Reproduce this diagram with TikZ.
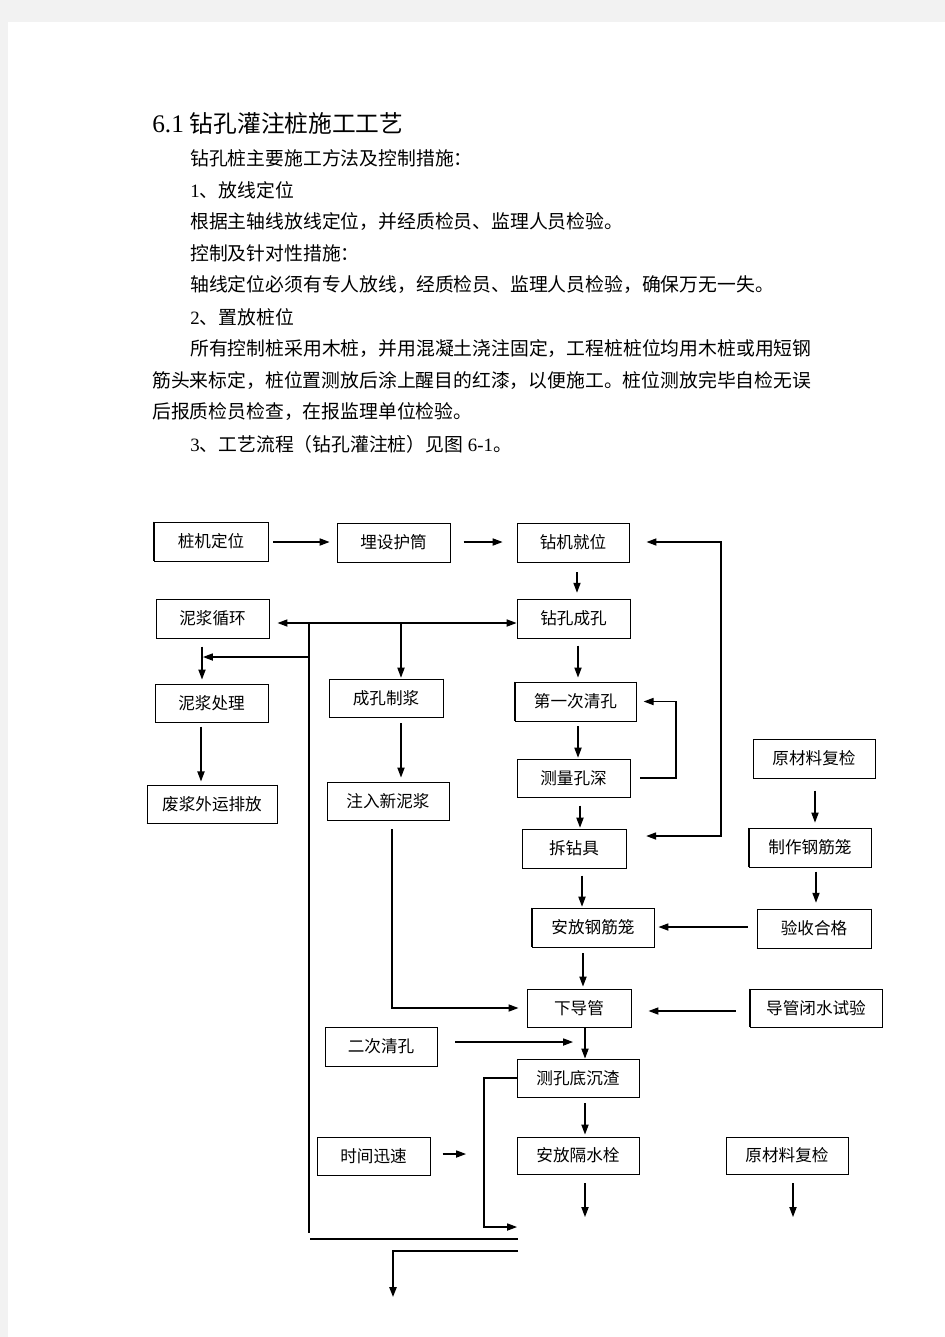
\documentclass[tikz,border=0pt]{standalone}
\usepackage{fontspec}
\setmainfont{Liberation Serif}
\newfontfamily\cjk{Noto Sans CJK SC}
\newfontfamily\latf{Liberation Serif}
\usetikzlibrary{arrows.meta}

\tikzset{
  box/.style 2 args={draw, line width=0.6pt, inner sep=0pt,
    minimum width=#1*0.2222mm, minimum height=#2*0.2222mm,
    font=\cjk\fontsize{10.5}{12}\selectfont},
  txt/.style={anchor=base west, inner sep=0pt, font=\cjk\fontsize{11.9}{14}\selectfont},
  ttl/.style={anchor=base west, inner sep=0pt, font=\cjk\fontsize{15}{18}\selectfont},
  line/.style={line width=0.7pt},
  arr/.style={line width=0.7pt, -{Triangle[length=2.2mm,width=1.6mm]}},
  arrtwo/.style={line width=0.7pt, {Triangle[length=2.2mm,width=1.6mm]}-{Triangle[length=2.2mm,width=1.6mm]}},
  edge/.style={line width=1.1pt}
}

\begin{document}
\begin{tikzpicture}[x=0.2222mm, y=-0.2222mm]
    \fill[black!5] (0,0) rectangle (945,1337);
    \fill[white] (8,22) rectangle (945,1337);
    \useasboundingbox (0,0) rectangle (945,1337);

    \node[ttl] (title) at (152,132) {{\latf\fontsize{16}{18}\selectfont 6.1}\hspace{0.25em}钻孔灌注桩施工工艺};
    \node[txt] (p1) at (190,165) {钻孔桩主要施工方法及控制措施：};
    \node[txt] (p2) at (190,197) {{\latf 1}、放线定位};
    \node[txt] (p3) at (190,228) {根据主轴线放线定位，并经质检员、监理人员检验。};
    \node[txt] (p4) at (190,260) {控制及针对性措施：};
    \node[txt] (p5) at (190,291) {轴线定位必须有专人放线，经质检员、监理人员检验，确保万无一失。};
    \node[txt] (p6) at (190,324) {{\latf 2}、置放桩位};
    \node[txt] (p7) at (190,355) {所有控制桩采用木桩，并用混凝土浇注固定，工程桩桩位均用木桩或用短钢};
    \node[txt] (p8) at (152,387) {筋头来标定，桩位置测放后涂上醒目的红漆，以便施工。桩位测放完毕自检无误};
    \node[txt] (p9) at (152,418) {后报质检员检查，在报监理单位检验。};
    \node[txt] (p10) at (190,451) {{\latf 3}、工艺流程（钻孔灌注桩）见图\hspace{0.25em}{\latf 6-1}。};

    \node[box={114}{39}] (zjdw) at (211,541.5) {桩机定位};
    \node[box={113}{39}] (mshs) at (393.5,542.5) {埋设护筒};
    \node[box={112}{39}] (zjjw) at (573,542.5) {钻机就位};
    \node[box={113}{39}] (njxh) at (212.5,618.5) {泥浆循环};
    \node[box={113}{39}] (zkck) at (573.5,618.5) {钻孔成孔};
    \node[box={114}{38}] (ckzj) at (386,698) {成孔制浆};
    \node[box={113}{38}] (njcl) at (211.5,703) {泥浆处理};
    \node[box={130}{38}] (fjpf) at (212,804) {废浆外运排放};
    \node[box={122}{38}] (zrxnj) at (388,801) {注入新泥浆};
    \node[box={121}{39}] (qkone) at (575.5,701.5) {第一次清孔};
    \node[box={113}{38}] (clks) at (573.5,778) {测量孔深};
    \node[box={104}{39}] (czj) at (574,848.5) {拆钻具};
    \node[box={122}{39}] (afgjl) at (593,927.5) {安放钢筋笼};
    \node[box={122}{39}] (yclone) at (814,758.5) {原材料复检};
    \node[box={122}{39}] (zzgjl) at (810,847.5) {制作钢筋笼};
    \node[box={114}{39}] (yshg) at (814,928.5) {验收合格};
    \node[box={104}{38}] (xdg) at (579,1008) {下导管};
    \node[box={132}{38}] (dgbs) at (816,1008) {导管闭水试验};
    \node[box={112}{39}] (qktwo) at (381,1046.5) {二次清孔};
    \node[box={122}{38}] (ckdcz) at (578,1078) {测孔底沉渣};
    \node[box={122}{37}] (afgsz) at (578,1155.5) {安放隔水栓};
    \node[box={122}{37}] (ycltwo) at (787,1155.5) {原材料复检};
    \node[box={113}{38}] (sjxs) at (373.5,1156) {时间迅速};

    \foreach \n in {zjdw,qkone,zzgjl,afgjl,dgbs}
        \draw[edge] (\n.north west) -- (\n.south west);
    \foreach \n in {zkck,ckzj,qkone,yshg,fjpf}
        \draw[edge] (\n.north east) -- (\n.south east);
    \foreach \n in {yshg,fjpf}
        \draw[edge] (\n.south west) -- (\n.south east);

    \coordinate (ja) at (309,623);
    \coordinate (jb) at (309,1233);
    \coordinate (jc) at (401,623);
    \coordinate (jd) at (309,657);
    \coordinate (je) at (203,657);
    \coordinate (fa) at (676,778);
    \coordinate (ft) at (721,542);
    \coordinate (fb) at (721,836);
    \coordinate (qe) at (573,1042);
    \coordinate (la) at (484,1227);
    \coordinate (lb) at (517,1227);
    \coordinate (ea) at (585,1217);
    \coordinate (eb) at (793,1217);
    \coordinate (ec) at (466,1154);
    \coordinate (ba) at (310,1239);
    \coordinate (bb) at (518,1239);
    \coordinate (bc) at (518,1251);
    \coordinate (bd) at (393,1251);
    \coordinate (be) at (393,1297);

    \draw[arr, shorten <=1.1mm, shorten >=1.55mm] (zjdw.east |- 0,542) -- (mshs.west |- 0,542);
    \draw[arr, shorten <=2.9mm, shorten >=3.1mm] (mshs.east |- 0,542) -- (zjjw.west |- 0,542);
    \draw[arr, shorten <=2.2mm, shorten >=1.3mm] (zjjw.south -| 577,0) -- (zkck.north -| 577,0);

    \draw[line] (ja) -- (jb);
    \draw[arr, shorten >=1.8mm] (ja) -- (njxh.east |- ja);
    \draw[arr] (ja) -- (zkck.west |- ja);
    \draw[arr, shorten >=0.2mm] (jc) -- (ckzj.north -| jc);
    \draw[arr] (jd) -- (je);
    \draw[arr, shorten <=1.8mm, shorten >=0.9mm] (njxh.south -| 202,0) -- (njcl.north -| 202,0);
    \draw[arr, shorten <=0.9mm, shorten >=0.7mm] (njcl.south -| 201,0) -- (fjpf.north -| 201,0);
    \draw[arr, shorten <=1.3mm, shorten >=0.9mm] (ckzj.south -| 401,0) -- (zrxnj.north -| 401,0);
    \draw[arr, shorten <=2mm, shorten >=1.8mm] (zrxnj.south -| 392,0) |- (xdg.west);

    \draw[arr, shorten <=1.6mm, shorten >=0.9mm] (zkck.south -| 578,0) -- (qkone.north -| 578,0);
    \draw[arr, shorten <=1.1mm, shorten >=0.2mm] (qkone.south -| 578,0) -- (clks.north -| 578,0);
    \draw[arr, shorten <=2.2mm, shorten >=1.6mm] (clks.east) -- (fa) |- (qkone.east);
    \draw[arr, shorten <=1.8mm, shorten >=0.2mm] (clks.south -| 580,0) -- (czj.north -| 580,0);
    \draw[arrtwo, shorten <=3.8mm, shorten >=4.4mm] (zjjw.east |- ft) -- (ft) -- (fb) -- (czj.east |- fb);
    \draw[arr, shorten <=1.6mm, shorten >=0.2mm] (czj.south -| 582,0) -- (afgjl.north -| 582,0);
    \draw[arr, shorten <=2.7mm, shorten >=1.1mm] (yclone.south -| 815,0) -- (zzgjl.north -| 815,0);
    \draw[arr, shorten <=0.9mm, shorten >=1.3mm] (zzgjl.south -| 816,0) -- (yshg.north -| 816,0);
    \draw[arr, shorten <=2mm, shorten >=0.9mm] (yshg.west |- 0,927) -- (afgjl.east |- 0,927);
    \draw[arr, shorten <=1.3mm, shorten >=0.45mm] (afgjl.south -| 583,0) -- (xdg.north -| 583,0);
    \draw[arr, shorten <=3.1mm, shorten >=3.8mm] (dgbs.west |- 0,1011) -- (xdg.east |- 0,1011);
    \draw[arr] (xdg.south -| 585,0) -- (ckdcz.north -| 585,0);
    \draw[arr, shorten <=4mm] (qktwo.east |- qe) -- (qe);
    \draw[arr] (ckdcz.west) -| (la) -- (lb);
    \draw[arr, shorten <=1.3mm, shorten >=0.45mm] (ckdcz.south -| 585,0) -- (afgsz.north -| 585,0);
    \draw[arr, shorten <=2mm] (afgsz.south -| ea) -- (ea);
    \draw[arr, shorten <=2mm] (ycltwo.south -| eb) -- (eb);
    \draw[arr, shorten <=2.7mm] (sjxs.east |- ec) -- (ec);

    \draw[line, line width=1.1pt] (ba) -- (bb);
    \draw[arr, line width=1.1pt] (bc) -- (bd) -- (be);
\end{tikzpicture}
\end{document}
